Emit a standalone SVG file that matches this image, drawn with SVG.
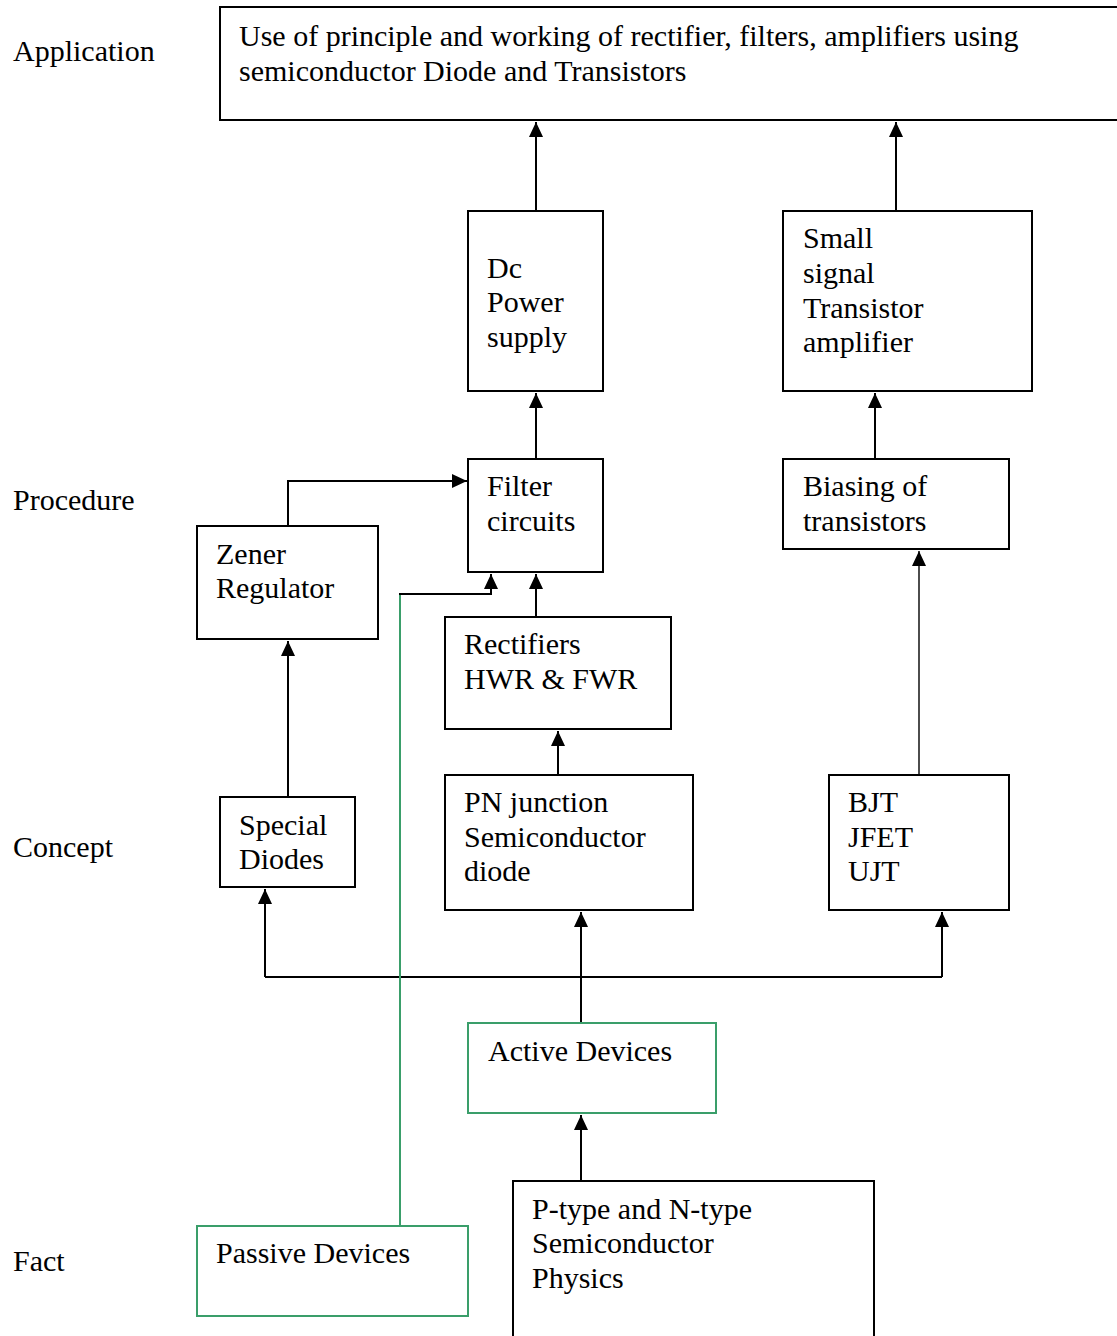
<svg xmlns="http://www.w3.org/2000/svg" width="1117" height="1336" viewBox="0 0 1117 1336">
<style>
text{font-family:"Liberation Serif","Times New Roman",serif;font-size:30px;fill:#000}
.box{fill:#fff;stroke:#000;stroke-width:2}
.gbox{fill:#fff;stroke:#3a9e6a;stroke-width:2}
.c{fill:none;stroke:#000;stroke-width:2}
.thin{fill:none;stroke:#000;stroke-width:1.4}
.g{fill:none;stroke:#3a9e6a;stroke-width:2}
</style>
<defs>
<marker id="ah" markerWidth="18" markerHeight="18" refX="15" refY="7" orient="auto" markerUnits="userSpaceOnUse">
<path d="M0,0 L15,7 L0,14 Z" fill="#000"/>
</marker>
</defs>
<rect width="1117" height="1336" fill="#fff"/>
<g id="levels">
<text x="13" y="61">Application</text>
<text x="13" y="510">Procedure</text>
<text x="13" y="857">Concept</text>
<text x="13" y="1271">Fact</text>
</g>
<g id="connectors">
<path class="c" d="M536,211 V122" marker-end="url(#ah)"/>
<path class="c" d="M896,211 V122" marker-end="url(#ah)"/>
<path class="c" d="M536,459 V393" marker-end="url(#ah)"/>
<path class="c" d="M875,459 V393" marker-end="url(#ah)"/>
<path class="c" d="M288,526 V481 H467" marker-end="url(#ah)"/>
<path class="c" d="M288,797 V641" marker-end="url(#ah)"/>
<path class="c" d="M536,617 V574" marker-end="url(#ah)"/>
<path class="c" d="M558,775 V731" marker-end="url(#ah)"/>
<path class="thin" d="M919,775 V551" marker-end="url(#ah)"/>
<path class="c" d="M581,1023 V912" marker-end="url(#ah)"/>
<path class="c" d="M265,977 H942"/>
<path class="c" d="M265,977 V889" marker-end="url(#ah)"/>
<path class="c" d="M942,977 V912" marker-end="url(#ah)"/>
<path class="c" d="M581,1181 V1115" marker-end="url(#ah)"/>
<path class="g" d="M400,1226 V594"/>
<path class="c" d="M399,594 H491 V574" marker-end="url(#ah)"/>
</g>
<g id="app">
<rect class="box" x="220" y="7" width="910" height="113"/>
<text x="239" y="46">Use of principle and working of rectifier, filters, amplifiers using</text>
<text x="239" y="81">semiconductor Diode and Transistors</text>
</g>
<g id="dc">
<rect class="box" x="468" y="211" width="135" height="180"/>
<text x="487" y="278">Dc</text>
<text x="487" y="312">Power</text>
<text x="487" y="347">supply</text>
</g>
<g id="small">
<rect class="box" x="783" y="211" width="249" height="180"/>
<text x="803" y="248">Small</text>
<text x="803" y="283">signal</text>
<text x="803" y="318">Transistor</text>
<text x="803" y="352">amplifier</text>
</g>
<g id="filter">
<rect class="box" x="468" y="459" width="135" height="113"/>
<text x="487" y="496">Filter</text>
<text x="487" y="531">circuits</text>
</g>
<g id="biasing">
<rect class="box" x="783" y="459" width="226" height="90"/>
<text x="803" y="496">Biasing of</text>
<text x="803" y="531">transistors</text>
</g>
<g id="zener">
<rect class="box" x="197" y="526" width="181" height="113"/>
<text x="216" y="564">Zener</text>
<text x="216" y="598">Regulator</text>
</g>
<g id="rectifiers">
<rect class="box" x="445" y="617" width="226" height="112"/>
<text x="464" y="654">Rectifiers</text>
<text x="464" y="689">HWR &amp; FWR</text>
</g>
<g id="special">
<rect class="box" x="220" y="797" width="135" height="90"/>
<text x="239" y="835">Special</text>
<text x="239" y="869">Diodes</text>
</g>
<g id="pn">
<rect class="box" x="445" y="775" width="248" height="135"/>
<text x="464" y="812">PN junction</text>
<text x="464" y="847">Semiconductor</text>
<text x="464" y="881">diode</text>
</g>
<g id="bjt">
<rect class="box" x="829" y="775" width="180" height="135"/>
<text x="848" y="812">BJT</text>
<text x="848" y="847">JFET</text>
<text x="848" y="881">UJT</text>
</g>
<g id="active">
<rect class="gbox" x="468" y="1023" width="248" height="90"/>
<text x="488" y="1061">Active Devices</text>
</g>
<g id="passive">
<rect class="gbox" x="197" y="1226" width="271" height="90"/>
<text x="216" y="1263">Passive Devices</text>
</g>
<g id="ptype">
<rect class="box" x="513" y="1181" width="361" height="170"/>
<text x="532" y="1219">P-type and N-type</text>
<text x="532" y="1253">Semiconductor</text>
<text x="532" y="1288">Physics</text>
</g>
</svg>
